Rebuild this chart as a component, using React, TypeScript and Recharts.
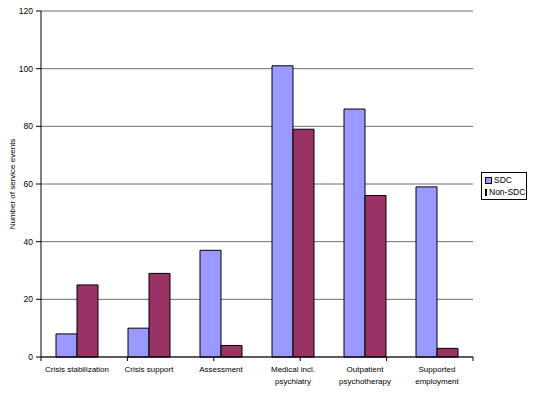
import React from 'react';
import { BarChart, Bar, XAxis, YAxis, CartesianGrid, Legend } from 'recharts';

const categories = [
  'Crisis stabilization',
  'Crisis support',
  'Assessment',
  'Medical incl.\npsychiatry',
  'Outpatient\npsychotherapy',
  'Supported\nemployment',
];
const sdc = [8, 10, 37, 101, 86, 59];
const nonSdc = [25, 29, 4, 79, 56, 3];
const yTicks = [0, 20, 40, 60, 80, 100, 120];
const boundaryTicks = [0, 1, 2, 3, 4, 5, 6];

const data = categories.map((name, i) => ({ name, SDC: sdc[i], 'Non-SDC': nonSdc[i] }));

const font = 'Arial, "Liberation Sans", sans-serif';

const CategoryTick = (props: any) => {
  const { x, y, payload } = props;
  const lines = String(payload.value).split('\n');
  return (
    <text x={x} y={y} textAnchor="middle" fontSize={8} fontFamily={font} fill="#000">
      {lines.map((l, i) => (
        <tspan key={i} x={x} dy={i === 0 ? 10 : 12}>{l}</tspan>
      ))}
    </text>
  );
};

const NoLabel = () => <g />;

const LegendBox = () => (
  <div style={{ border: '1px solid #000', background: '#fff', padding: '1px 2px 1px 3px', fontFamily: font, fontSize: 8.5, lineHeight: '12px', whiteSpace: 'nowrap', boxSizing: 'border-box', width: 46 }}>
    {[{ name: 'SDC', color: '#9999FF' }, { name: 'Non-SDC', color: '#993366' }].map((it) => (
      <div key={it.name} style={{ display: 'flex', alignItems: 'center' }}>
        <span style={{ display: 'inline-block', width: 5, height: 5, background: it.color, border: '1px solid #000', marginRight: 2 }} />
        {it.name}
      </div>
    ))}
  </div>
);

export default function App() {
  return (
    <div style={{ position: 'absolute', left: 0, top: 0, background: '#fff' }}>
      <BarChart
        width={537}
        height={393}
        data={data}
        margin={{ top: 11, right: 64, bottom: 0, left: 0 }}
        barCategoryGap={15}
        barGap={0}
      >
        <CartesianGrid vertical={false} stroke="#6e6e6e" xAxisId="cat" />
        <XAxis
          xAxisId="bnd"
          type="number"
          domain={[0, 6]}
          ticks={boundaryTicks}
          tick={<NoLabel />}
          height={5}
          tickSize={4}
          stroke="#000"
        />
        <XAxis
          xAxisId="cat"
          dataKey="name"
          height={31}
          tickLine={false}
          tickSize={0}
          tickMargin={0}
          axisLine={false}
          interval={0}
          tick={<CategoryTick />}
        />
        <YAxis
          domain={[0, 120]}
          ticks={yTicks}
          width={41}
          tickSize={5}
          tickMargin={3}
          stroke="#000"
          tick={{ fontSize: 8.5, fontFamily: font, fill: '#000' }}
          label={{
            value: 'Number of service events',
            angle: -90,
            position: 'insideLeft',
            offset: 12,
            style: { textAnchor: 'middle', fontSize: 8, fontFamily: font, fill: '#000' },
          }}
        />
        <YAxis yAxisId="r" orientation="right" width={0} tick={false} tickLine={false} stroke="#808080" domain={[0, 120]} />
        <Legend
          layout="vertical"
          verticalAlign="middle"
          align="center"
          content={<LegendBox />}
          wrapperStyle={{ left: 481, top: 172, width: 46 }}
        />
        <Bar xAxisId="cat" dataKey="SDC" fill="#9999FF" stroke="#000" strokeWidth={1} isAnimationActive={false} />
        <Bar xAxisId="cat" dataKey="Non-SDC" fill="#993366" stroke="#000" strokeWidth={1} isAnimationActive={false} />
      </BarChart>
    </div>
  );
}
